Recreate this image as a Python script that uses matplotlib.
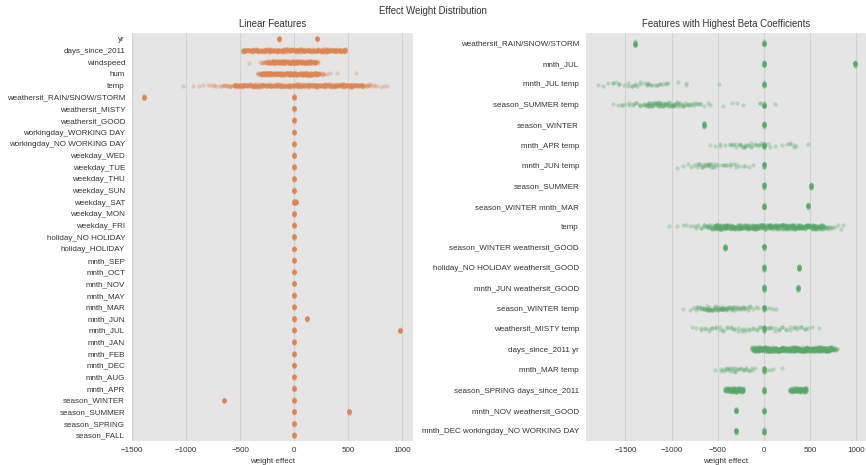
import numpy as np
import pandas as pd
import matplotlib
matplotlib.use("Agg")
import matplotlib.pyplot as plt
import seaborn as sns

# ---------------------------------------------------------------------------
# Feature order (top to bottom) for each panel
# ---------------------------------------------------------------------------
linear_features = [
    "yr", "days_since_2011", "windspeed", "hum", "temp",
    "weathersit_RAIN/SNOW/STORM", "weathersit_MISTY", "weathersit_GOOD",
    "workingday_WORKING DAY", "workingday_NO WORKING DAY",
    "weekday_WED", "weekday_TUE", "weekday_THU", "weekday_SUN", "weekday_SAT",
    "weekday_MON", "weekday_FRI", "holiday_NO HOLIDAY", "holiday_HOLIDAY",
    "mnth_SEP", "mnth_OCT", "mnth_NOV", "mnth_MAY", "mnth_MAR", "mnth_JUN",
    "mnth_JUL", "mnth_JAN", "mnth_FEB", "mnth_DEC", "mnth_AUG", "mnth_APR",
    "season_WINTER", "season_SUMMER", "season_SPRING", "season_FALL",
]

beta_features = [
    "weathersit_RAIN/SNOW/STORM", "mnth_JUL", "mnth_JUL temp",
    "season_SUMMER temp", "season_WINTER", "mnth_APR temp", "mnth_JUN temp",
    "season_SUMMER", "season_WINTER mnth_MAR", "temp",
    "season_WINTER weathersit_GOOD", "holiday_NO HOLIDAY weathersit_GOOD",
    "mnth_JUN weathersit_GOOD", "season_WINTER temp", "weathersit_MISTY temp",
    "days_since_2011 yr", "mnth_MAR temp", "season_SPRING days_since_2011",
    "mnth_NOV weathersit_GOOD", "mnth_DEC workingday_NO WORKING DAY",
]

# ---------------------------------------------------------------------------
# Binary features: the distinct effect values each one takes
# (features not listed only take the value 0)
# ---------------------------------------------------------------------------
linear_discrete = {
    "yr": [-136, 213],
    "weathersit_RAIN/SNOW/STORM": [0, -1393],
    "weekday_SAT": [0, 15],
    "mnth_JUN": [0, 123],
    "mnth_JUL": [0, 980],
    "season_WINTER": [0, -647],
    "season_SUMMER": [0, 505],
}

beta_discrete = {
    "weathersit_RAIN/SNOW/STORM": [0, -1396],
    "mnth_JUL": [0, 981],
    "season_WINTER": [0, -650],
    "season_SUMMER": [0, 505],
    "season_WINTER mnth_MAR": [0, 480],
    "season_WINTER weathersit_GOOD": [0, -418],
    "holiday_NO HOLIDAY weathersit_GOOD": [0, 379],
    "mnth_JUN weathersit_GOOD": [0, 371],
    "mnth_NOV weathersit_GOOD": [0, -303],
    "mnth_DEC workingday_NO WORKING DAY": [0, -303],
}

# ---------------------------------------------------------------------------
# Continuous effects: (effect value, number of instances near that value)
# ---------------------------------------------------------------------------
temp_effect = [
    (-1030, 1), (-940, 1), (-880, 1), (-845, 1), (-800, 1), (-770, 1),
    (-740, 2), (-710, 1), (-680, 2), (-650, 3), (-620, 3), (-590, 4),
    (-560, 6), (-535, 8), (-510, 9), (-485, 8), (-460, 8), (-435, 9),
    (-410, 8), (-385, 8), (-360, 9), (-335, 8), (-310, 8), (-285, 8),
    (-260, 9), (-235, 8), (-210, 8), (-185, 8), (-160, 9), (-135, 8),
    (-110, 8), (-85, 8), (-60, 8), (-35, 9), (-10, 8), (15, 8), (40, 8),
    (65, 9), (90, 8), (115, 8), (140, 8), (165, 8), (190, 9), (215, 8),
    (240, 8), (265, 9), (290, 8), (315, 8), (340, 9), (365, 8), (390, 8),
    (415, 9), (440, 8), (465, 8), (490, 9), (515, 8), (540, 8), (565, 9),
    (590, 8), (615, 8), (640, 7), (670, 4), (700, 3), (735, 2), (770, 1),
    (800, 1), (830, 1), (857, 1),
]

days_since_2011_effect = [
    (-474, 8), (-450, 10), (-426, 10), (-402, 10), (-378, 10), (-354, 10),
    (-330, 10), (-306, 10), (-282, 10), (-258, 10), (-234, 10), (-210, 10),
    (-186, 10), (-162, 10), (-138, 10), (-114, 10), (-90, 10), (-66, 10),
    (-42, 10), (-18, 10), (6, 10), (30, 10), (54, 10), (78, 10), (102, 10),
    (126, 10), (150, 10), (174, 10), (198, 10), (222, 10), (246, 10),
    (270, 10), (294, 10), (318, 10), (342, 10), (366, 10), (390, 10),
    (414, 10), (438, 10), (462, 10), (471, 8),
]

windspeed_effect = [
    (-413, 1), (-314, 1), (-296, 2), (-276, 3), (-256, 4), (-238, 6),
    (-220, 9), (-200, 10), (-180, 10), (-160, 10), (-140, 10), (-120, 10),
    (-100, 10), (-80, 10), (-60, 10), (-40, 10), (-20, 10), (0, 10),
    (20, 10), (40, 10), (60, 10), (80, 10), (100, 10), (120, 10),
    (140, 10), (160, 9), (180, 8), (194, 6), (210, 3), (225, 1),
]

hum_effect = [
    (-330, 4), (-310, 8), (-290, 10), (-270, 10), (-250, 10), (-230, 10),
    (-210, 10), (-190, 10), (-170, 10), (-150, 10), (-130, 10), (-110, 10),
    (-90, 10), (-70, 10), (-50, 10), (-30, 10), (-10, 10), (10, 10),
    (30, 10), (50, 10), (70, 10), (90, 10), (110, 10), (130, 10),
    (150, 10), (170, 9), (190, 9), (210, 8), (230, 6), (256, 3), (280, 2),
    (300, 1), (333, 1), (400, 1), (573, 1),
]

# interaction terms (each also sits at 0 for the instances it does not apply to)
mnth_jul_temp_effect = [
    (0, 12), (-1800, 1), (-1740, 1), (-1690, 1), (-1630, 2), (-1600, 1),
    (-1570, 2), (-1520, 1), (-1470, 2), (-1430, 2), (-1400, 2), (-1370, 1),
    (-1340, 2), (-1300, 1), (-1270, 2), (-1250, 2), (-1220, 2), (-1190, 1),
    (-1160, 2), (-1130, 2), (-1090, 1), (-1060, 2), (-1040, 1), (-930, 1),
    (-840, 2), (-490, 1),
]

season_summer_temp_effect = [
    (0, 12), (-1630, 1), (-1580, 1), (-1540, 2), (-1500, 1), (-1460, 2),
    (-1420, 2), (-1380, 2), (-1340, 3), (-1300, 3), (-1270, 4), (-1240, 5),
    (-1210, 5), (-1180, 5), (-1150, 5), (-1120, 5), (-1090, 5), (-1060, 5),
    (-1030, 5), (-1000, 4), (-970, 4), (-940, 4), (-910, 3), (-880, 3),
    (-850, 2), (-820, 3), (-790, 2), (-760, 2), (-730, 2), (-690, 2),
    (-650, 1), (-610, 1), (-585, 1), (-440, 1), (-350, 1), (-295, 1),
    (-225, 1), (-45, 2), (120, 1),
]

mnth_apr_temp_effect = [
    (0, 12), (-585, 1), (-530, 1), (-480, 2), (-420, 1), (-370, 2),
    (-330, 2), (-300, 2), (-260, 3), (-230, 2), (-200, 3), (-170, 2),
    (-140, 3), (-100, 2), (-60, 2), (-30, 2), (40, 1), (60, 1), (120, 1),
    (200, 1), (250, 1), (280, 2), (330, 2), (350, 1), (480, 1),
]

mnth_jun_temp_effect = [
    (0, 12), (-945, 1), (-875, 1), (-820, 1), (-785, 1), (-760, 1),
    (-730, 2), (-700, 2), (-670, 3), (-640, 3), (-610, 3), (-580, 3),
    (-550, 3), (-520, 2), (-490, 1), (-440, 2), (-410, 2), (-370, 2),
    (-340, 1), (-300, 2), (-270, 1), (-230, 1), (-200, 1), (-160, 1),
    (-120, 1),
]

season_winter_temp_effect = [
    (0, 12), (-875, 1), (-800, 1), (-770, 1), (-740, 2), (-710, 2),
    (-680, 3), (-650, 4), (-620, 5), (-590, 5), (-560, 5), (-530, 5),
    (-500, 5), (-470, 5), (-440, 5), (-410, 5), (-380, 4), (-350, 4),
    (-320, 3), (-290, 3), (-260, 3), (-230, 3), (-200, 2), (-170, 2),
    (-150, 2), (-120, 1), (-90, 1), (-60, 1), (30, 1), (60, 1), (100, 1),
    (135, 1),
]

weathersit_misty_temp_effect = [
    (0, 12), (-780, 1), (-740, 1), (-680, 2), (-640, 2), (-600, 2),
    (-560, 2), (-520, 2), (-480, 2), (-440, 2), (-400, 2), (-360, 2),
    (-320, 2), (-280, 2), (-240, 2), (-200, 2), (-160, 2), (-120, 2),
    (-80, 2), (-40, 2), (40, 2), (80, 2), (120, 2), (160, 2), (200, 2),
    (240, 2), (280, 2), (320, 2), (360, 2), (400, 2), (440, 2), (480, 1),
    (520, 1), (600, 1),
]

days_since_2011_yr_effect = [
    (-130, 5), (-110, 9), (-90, 10), (-70, 10), (-50, 10), (-30, 10),
    (-10, 10), (10, 10), (30, 10), (50, 10), (70, 10), (90, 10), (110, 10),
    (130, 10), (150, 10), (170, 10), (190, 10), (210, 10), (230, 10),
    (250, 10), (270, 10), (290, 10), (310, 10), (330, 10), (350, 10),
    (370, 10), (390, 10), (410, 10), (430, 10), (450, 10), (470, 10),
    (490, 10), (510, 10), (530, 10), (550, 10), (570, 10), (590, 10),
    (610, 10), (630, 10), (650, 10), (670, 10), (690, 10), (710, 10),
    (730, 9), (750, 7), (770, 4), (785, 2),
]

mnth_mar_temp_effect = [
    (0, 12), (-530, 1), (-460, 2), (-430, 2), (-400, 3), (-370, 3),
    (-340, 2), (-310, 3), (-280, 2), (-250, 2), (-220, 2), (-190, 2),
    (-160, 2), (-130, 2), (-100, 1), (30, 1), (60, 1), (100, 1), (190, 1),
]

season_spring_days_effect = [
    (0, 12), (-420, 6), (-400, 9), (-380, 9), (-360, 9), (-340, 9),
    (-320, 9), (-300, 9), (-280, 9), (-260, 9), (-240, 9), (-225, 6),
    (285, 6), (305, 9), (325, 9), (345, 9), (365, 9), (385, 9), (405, 9),
    (425, 9), (445, 9), (460, 6),
]

linear_continuous = {
    "days_since_2011": days_since_2011_effect,
    "windspeed": windspeed_effect,
    "hum": hum_effect,
    "temp": temp_effect,
}

beta_continuous = {
    "mnth_JUL temp": mnth_jul_temp_effect,
    "season_SUMMER temp": season_summer_temp_effect,
    "mnth_APR temp": mnth_apr_temp_effect,
    "mnth_JUN temp": mnth_jun_temp_effect,
    "temp": temp_effect,
    "season_WINTER temp": season_winter_temp_effect,
    "weathersit_MISTY temp": weathersit_misty_temp_effect,
    "days_since_2011 yr": days_since_2011_yr_effect,
    "mnth_MAR temp": mnth_mar_temp_effect,
    "season_SPRING days_since_2011": season_spring_days_effect,
}

# instances stacked on each value of a binary feature
BINARY_STACK = 12


def long_form(features, discrete, continuous):
    rows = []
    for feat in features:
        if feat in continuous:
            for val, cnt in continuous[feat]:
                rows += [(feat, val)] * cnt
        else:
            for val in discrete.get(feat, [0]):
                rows += [(feat, val)] * BINARY_STACK
    return pd.DataFrame(rows, columns=["feature", "effect"])


linear_df = long_form(linear_features, linear_discrete, linear_continuous)
beta_df = long_form(beta_features, beta_discrete, beta_continuous)

# ---------------------------------------------------------------------------
# Figure
# ---------------------------------------------------------------------------
plt.rcParams["font.family"] = ["Liberation Sans", "DejaVu Sans"]
text_color = "#333333"
label_size = 5.8

W, H = 866, 465
fig = plt.figure(figsize=(W / 100, H / 100), dpi=100)

top, bottom = 33, 441
ax_left = fig.add_axes([132 / W, 1 - bottom / H, 281 / W, (bottom - top) / H])
ax_right = fig.add_axes([586 / W, 1 - bottom / H, 280 / W, (bottom - top) / H])

np.random.seed(3)
panels = [
    (ax_left, linear_df, linear_features, "#dd8452", "Linear Features", (-1500, 1100)),
    (ax_right, beta_df, beta_features, "#55a868", "Features with Highest Beta Coefficients", (-1926, 1104)),
]

for ax, df, order, color, title, xlim in panels:
    ax.set_facecolor("#e5e5e5")
    sns.stripplot(data=df, x="effect", y="feature", order=order, color=color,
                  alpha=0.3, size=3.1, jitter=True, linewidth=0, ax=ax)
    ax.set_xlim(*xlim)
    ax.set_ylim(len(order) - 0.5, -0.5)
    ax.set_xticks([-1500, -1000, -500, 0, 500, 1000])
    ax.grid(axis="x", color="#d2d2d2", linewidth=0.8)
    ax.grid(axis="y", visible=False)
    ax.set_axisbelow(True)
    for sp in ax.spines.values():
        sp.set_visible(False)
    ax.tick_params(axis="both", length=0, labelsize=label_size, colors=text_color)
    ax.tick_params(axis="y", pad=5)
    ax.tick_params(axis="x", pad=4.5)
    ax.set_ylabel("")
    ax.set_xlabel("weight effect", fontsize=label_size, color=text_color, labelpad=2.5)
    ax.set_title(title, fontsize=6.9, color=text_color, pad=4)

fig.text(0.5, 1 - 11 / H, "Effect Weight Distribution", ha="center", va="center",
         fontsize=6.9, color=text_color)

fig.savefig("out.png", dpi=100)
